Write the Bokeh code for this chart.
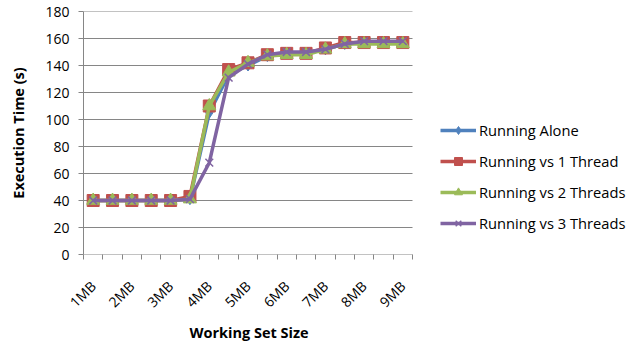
import math
from bokeh.plotting import figure
from bokeh.models import (FixedTicker, Legend, LegendItem, Range1d, ColumnDataSource, Title)
from bokeh.embed import file_html
from bokeh.resources import INLINE

categories = ["1MB", "1.5MB", "2MB", "2.5MB", "3MB", "3.5MB", "4MB", "4.5MB", "5MB",
              "5.5MB", "6MB", "6.5MB", "7MB", "7.5MB", "8MB", "8.5MB", "9MB"]
running_alone = [40, 40, 40, 40, 40, 41, 105, 133, 140, 147, 149, 149, 152, 156, 157, 157, 157]
running_vs_1 = [40, 40, 40, 40, 40, 43, 110, 137, 142, 148, 149, 149, 153, 157, 157, 157, 157]
running_vs_2 = [40, 40, 40, 40, 40, 41, 110, 135, 142, 147, 148, 148, 152, 156, 156, 156, 156]
running_vs_3 = [40, 40, 40, 40, 40, 41, 68, 131, 141, 148, 150, 150, 152, 156, 158, 158, 158]
series_names = ["Running Alone", "Running vs 1 Thread", "Running vs 2 Threads", "Running vs 3 Threads"]
y_ticks = [0, 20, 40, 60, 80, 100, 120, 140, 160, 180]
x_title = "Working Set Size"
y_title = "Execution Time (s)"

FONT = "Open Sans"
GRAY = "#868686"

n = len(categories)
xs = list(range(n))
label_idx = [i for i in xs if i % 2 == 0]

# plot area (categories) occupies 329 px; the canvas continues to the right for the legend
LEFT = 83
PLOT_PX = 329
FRAME_PX = 639 - LEFT - 5
x_end = -0.5 + n * FRAME_PX / PLOT_PX

p = figure(width=639, height=341, output_backend="svg", toolbar_location=None,
           x_range=Range1d(-0.5, x_end), y_range=Range1d(0, 180),
           min_border_left=LEFT, min_border_right=5, min_border_top=11, min_border_bottom=87)
p.outline_line_color = None
p.background_fill_color = "white"
p.border_fill_color = "white"

# grid (only across the category area)
p.xgrid.visible = False
p.ygrid.visible = False
grid_src = ColumnDataSource(dict(y=[t for t in y_ticks if t > 0]))
p.segment(x0=-0.5, x1=n - 0.5, y0="y", y1="y", source=grid_src, line_color=GRAY, line_width=1)
p.segment(x0=-0.5, x1=n - 0.5, y0=0, y1=0, line_color=GRAY, line_width=1)

# y axis
p.yaxis.ticker = FixedTicker(ticks=y_ticks)
p.yaxis.axis_line_color = GRAY
p.yaxis.major_tick_line_color = GRAY
p.yaxis.major_tick_in = 0
p.yaxis.major_tick_out = 5
p.yaxis.minor_tick_line_color = None
p.yaxis.major_label_text_font = FONT
p.yaxis.major_label_text_font_size = "14px"
p.yaxis.major_label_text_color = "#000000"
p.yaxis.major_label_standoff = 9
p.yaxis.axis_label = y_title
p.yaxis.axis_label_text_font = FONT
p.yaxis.axis_label_text_font_size = "14.5px"
p.yaxis.axis_label_text_font_style = "bold"
p.yaxis.axis_label_text_color = "#000000"
p.yaxis.axis_label_standoff = 14

# x axis
p.xaxis.ticker = FixedTicker(ticks=label_idx, minor_ticks=[i - 0.5 for i in xs] + [n - 0.5])
p.xaxis.major_label_overrides = {i: categories[i] for i in label_idx}
p.xaxis.axis_line_color = None
p.xaxis.major_tick_line_color = None
p.xaxis.major_tick_in = 0
p.xaxis.major_tick_out = 0
p.xaxis.minor_tick_line_color = GRAY
p.xaxis.minor_tick_in = 0
p.xaxis.minor_tick_out = 5
p.xaxis.major_label_orientation = math.pi / 4
p.xaxis.major_label_text_font = FONT
p.xaxis.major_label_text_font_size = "14px"
p.xaxis.major_label_text_color = "#000000"
p.xaxis.major_label_standoff = 24

# x axis title centred under the category area
t = Title(text=x_title, align="left", offset=106,
          text_font=FONT, text_font_size="14.5px", text_font_style="bold",
          text_color="#000000", standoff=0)
p.add_layout(t, "below")

colors = ["#4F81BD", "#C0504D", "#9BBB59", "#8064A2"]
markers = ["diamond", "square", "triangle", "x"]
sizes = [11, 12, 13, 11]
data = [running_alone, running_vs_1, running_vs_2, running_vs_3]

items = []
for name, ys, c, m, s in zip(series_names, data, colors, markers, sizes):
    src = ColumnDataSource(dict(x=xs, y=ys))
    ln = p.line("x", "y", source=src, line_color=c, line_width=3.5)
    if m == "x":
        sc = p.scatter("x", "y", source=src, marker=m, size=s, line_color=c, line_width=1.5)
    else:
        sc = p.scatter("x", "y", source=src, marker=m, size=s, fill_color=c, line_color=c, line_width=1)
    items.append(LegendItem(label=name, renderers=[ln, sc]))

legend = Legend(items=items, location=(357, 21))
legend.padding = 0
legend.margin = 0
legend.border_line_color = None
legend.background_fill_alpha = 0
legend.glyph_width = 36
legend.glyph_height = 20
legend.label_height = 20
legend.spacing = 11
legend.label_standoff = 3
legend.label_text_font = FONT
legend.label_text_font_size = "14.7px"
legend.label_text_color = "#000000"
p.add_layout(legend, "center")

open("out.html", "w").write(file_html(p, INLINE))
